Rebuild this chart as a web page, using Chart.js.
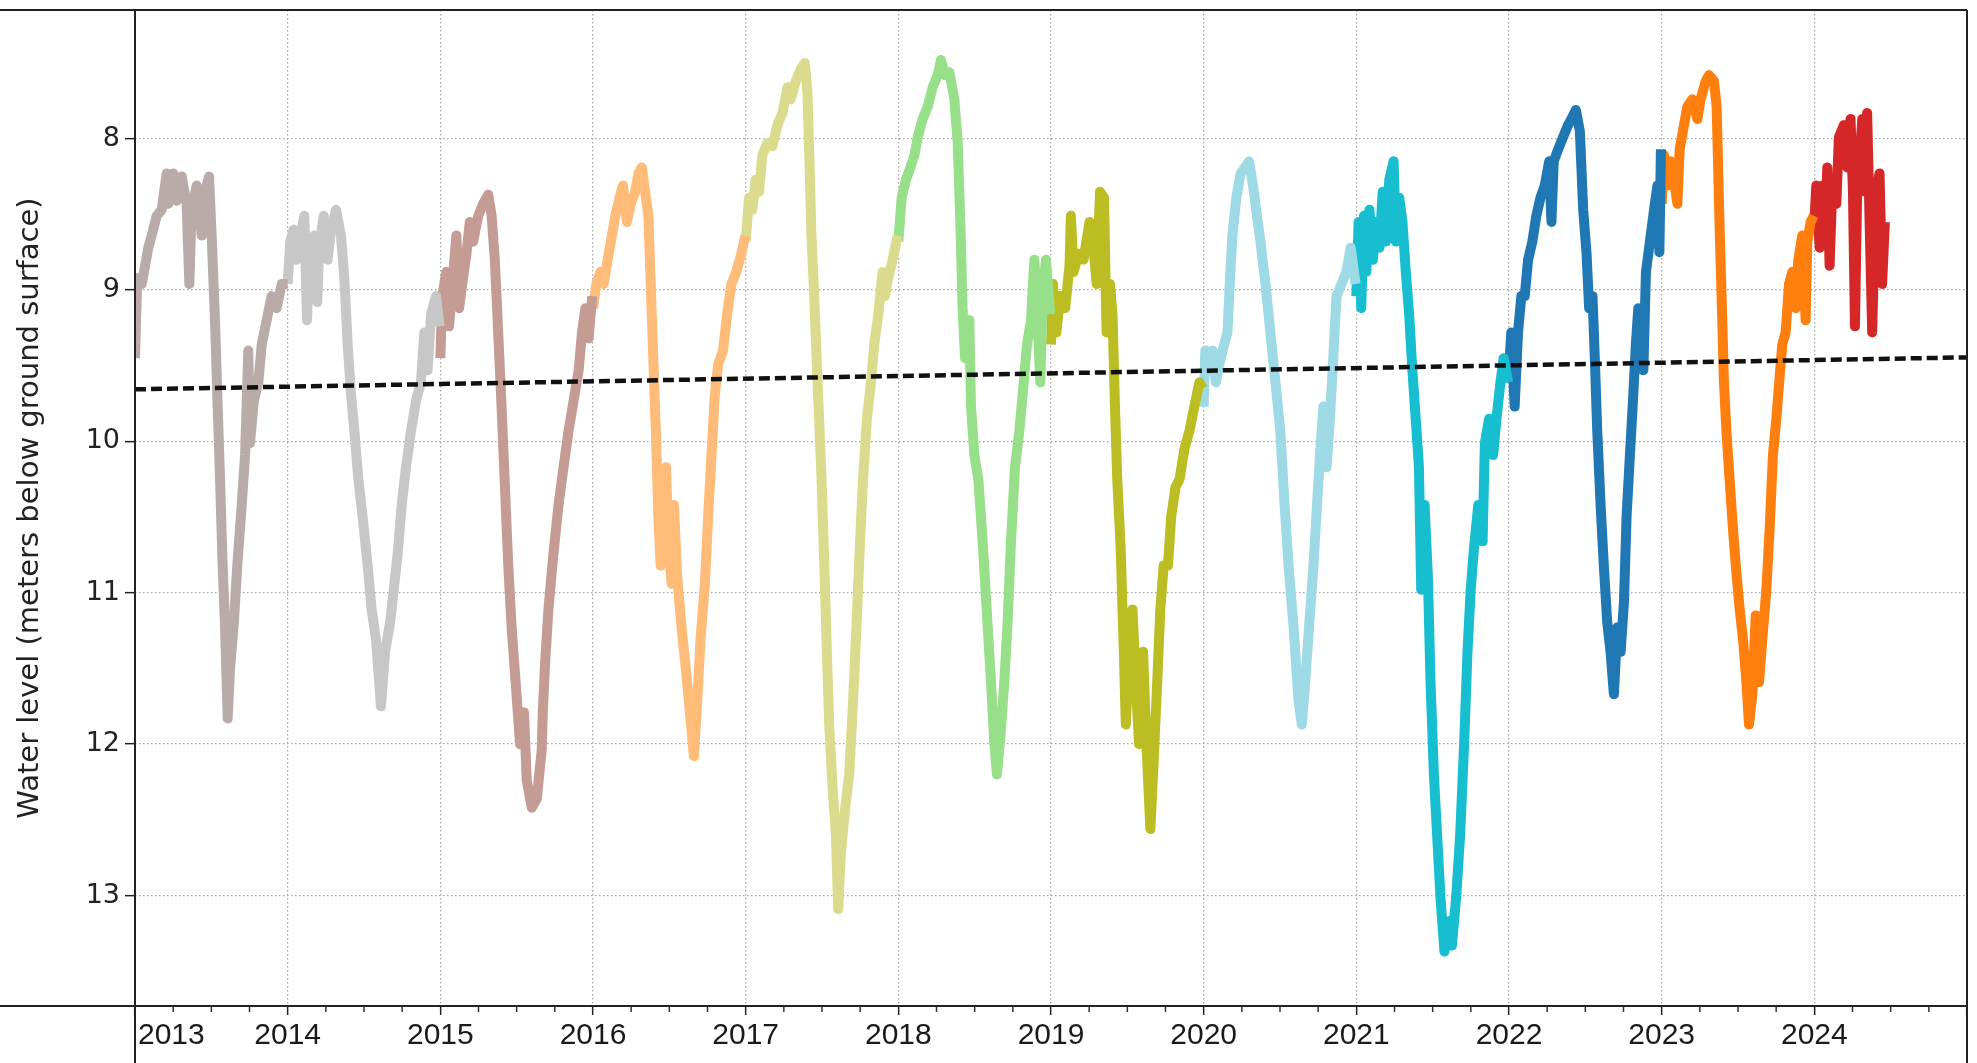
<!DOCTYPE html>
<html>
<head>
<meta charset="utf-8">
<script src="https://cdn.jsdelivr.net/npm/chart.js@4.4.1/dist/chart.umd.min.js"></script>
<style>
  html, body { margin: 0; padding: 0; background: #fff; }
  #wrap { width: 1977px; height: 1063px; }
</style>
</head>
<body>
<div id="wrap"><canvas id="levelChart" width="1977" height="1063"></canvas></div>
<script>
// Water level per calendar year: [fraction of the year, metres below ground surface]
const level2013 = [[0.00, 9.45], [0.015, 8.92], [0.044, 8.96], [0.066, 8.84], [0.087, 8.72], [0.109, 8.64], [0.142, 8.51], [0.175, 8.47], [0.207, 8.23], [0.218, 8.43], [0.251, 8.23], [0.273, 8.41], [0.306, 8.25], [0.338, 8.43], [0.356, 8.96], [0.371, 8.47], [0.404, 8.31], [0.426, 8.51], [0.437, 8.64], [0.459, 8.35], [0.485, 8.25], [0.502, 8.64], [0.524, 9.20], [0.539, 9.69], [0.557, 10.25], [0.574, 10.82], [0.590, 11.23], [0.607, 11.83], [0.622, 11.51], [0.648, 11.19], [0.670, 10.82], [0.699, 10.42], [0.721, 10.09], [0.742, 9.40], [0.753, 10.01], [0.779, 9.73], [0.808, 9.61], [0.830, 9.36], [0.862, 9.20], [0.895, 9.04], [0.928, 9.12], [0.961, 8.96], [1.0, 8.96]];
const level2014 = [[0.00, 8.96], [0.017, 8.68], [0.039, 8.60], [0.055, 8.80], [0.076, 8.68], [0.109, 8.51], [0.127, 9.20], [0.142, 8.68], [0.175, 8.64], [0.194, 9.08], [0.207, 8.72], [0.236, 8.51], [0.262, 8.80], [0.284, 8.60], [0.317, 8.47], [0.349, 8.64], [0.371, 8.92], [0.393, 9.36], [0.415, 9.69], [0.437, 9.93], [0.463, 10.25], [0.491, 10.50], [0.524, 10.82], [0.550, 11.11], [0.579, 11.31], [0.611, 11.75], [0.638, 11.39], [0.672, 11.19], [0.699, 10.94], [0.721, 10.74], [0.747, 10.42], [0.775, 10.17], [0.808, 9.93], [0.841, 9.73], [0.873, 9.61], [0.895, 9.28], [0.917, 9.53], [0.939, 9.16], [0.972, 9.04], [0.995, 9.24]];
const level2015 = [[0.00, 9.45], [0.013, 9.04], [0.039, 8.88], [0.057, 9.24], [0.079, 8.96], [0.105, 8.64], [0.123, 9.12], [0.149, 8.92], [0.171, 8.76], [0.193, 8.55], [0.215, 8.68], [0.248, 8.51], [0.281, 8.43], [0.314, 8.37], [0.336, 8.51], [0.357, 8.80], [0.379, 9.28], [0.401, 9.77], [0.423, 10.30], [0.445, 10.82], [0.467, 11.23], [0.496, 11.63], [0.522, 12.00], [0.548, 11.79], [0.566, 12.24], [0.599, 12.42], [0.632, 12.36], [0.664, 12.04], [0.671, 11.79], [0.686, 11.47], [0.708, 11.11], [0.741, 10.74], [0.774, 10.42], [0.807, 10.17], [0.840, 9.93], [0.873, 9.73], [0.906, 9.53], [0.928, 9.28], [0.950, 9.12], [0.971, 9.32], [0.995, 9.04]];
const level2016 = [[0.00, 9.12], [0.022, 8.96], [0.048, 8.88], [0.070, 8.96], [0.096, 8.80], [0.124, 8.64], [0.146, 8.51], [0.174, 8.39], [0.196, 8.31], [0.222, 8.55], [0.248, 8.43], [0.276, 8.35], [0.298, 8.23], [0.320, 8.19], [0.341, 8.35], [0.363, 8.51], [0.378, 8.96], [0.396, 9.49], [0.413, 9.97], [0.428, 10.50], [0.443, 10.82], [0.461, 10.58], [0.478, 10.17], [0.493, 10.66], [0.515, 10.94], [0.530, 10.42], [0.552, 10.90], [0.580, 11.23], [0.609, 11.51], [0.635, 11.79], [0.661, 12.08], [0.683, 11.71], [0.704, 11.31], [0.733, 10.94], [0.754, 10.50], [0.776, 10.09], [0.798, 9.69], [0.820, 9.49], [0.852, 9.40], [0.878, 9.16], [0.907, 8.96], [0.939, 8.88], [0.972, 8.76], [0.998, 8.64]];
const level2017 = [[0.00, 8.68], [0.022, 8.39], [0.044, 8.47], [0.066, 8.27], [0.088, 8.35], [0.109, 8.11], [0.142, 8.03], [0.175, 8.05], [0.208, 7.91], [0.241, 7.83], [0.274, 7.66], [0.295, 7.74], [0.328, 7.62], [0.361, 7.54], [0.387, 7.50], [0.405, 7.70], [0.420, 8.23], [0.431, 8.64], [0.449, 9.04], [0.466, 9.49], [0.481, 9.85], [0.497, 10.25], [0.514, 10.78], [0.532, 11.39], [0.547, 11.87], [0.569, 12.28], [0.591, 12.60], [0.606, 13.09], [0.624, 12.72], [0.650, 12.44], [0.678, 12.20], [0.700, 11.79], [0.722, 11.31], [0.744, 10.78], [0.766, 10.30], [0.794, 9.85], [0.821, 9.61], [0.842, 9.36], [0.869, 9.16], [0.897, 8.88], [0.912, 9.04], [0.934, 8.92], [0.963, 8.80], [0.995, 8.64]];
const level2018 = [[0.00, 8.68], [0.022, 8.39], [0.050, 8.27], [0.079, 8.19], [0.105, 8.11], [0.127, 7.99], [0.159, 7.87], [0.192, 7.79], [0.225, 7.66], [0.258, 7.58], [0.279, 7.48], [0.306, 7.58], [0.334, 7.56], [0.367, 7.74], [0.389, 8.03], [0.406, 8.55], [0.421, 9.12], [0.437, 9.45], [0.465, 9.20], [0.476, 9.77], [0.498, 10.09], [0.524, 10.25], [0.552, 10.66], [0.581, 11.15], [0.607, 11.59], [0.629, 12.00], [0.646, 12.20], [0.668, 11.96], [0.694, 11.59], [0.716, 11.19], [0.738, 10.66], [0.764, 10.17], [0.793, 9.93], [0.821, 9.61], [0.843, 9.36], [0.869, 9.20], [0.891, 8.80], [0.908, 9.12], [0.930, 9.61], [0.945, 9.04], [0.967, 8.80], [0.995, 9.16]];
const level2019 = [[0.00, 9.36], [0.013, 8.96], [0.035, 9.28], [0.061, 9.04], [0.093, 9.12], [0.121, 8.84], [0.130, 8.51], [0.148, 8.88], [0.180, 8.76], [0.213, 8.80], [0.252, 8.55], [0.278, 8.72], [0.299, 8.96], [0.321, 8.35], [0.347, 8.39], [0.364, 9.28], [0.386, 8.96], [0.403, 9.16], [0.419, 9.77], [0.434, 10.25], [0.456, 10.70], [0.477, 11.39], [0.490, 11.87], [0.512, 11.39], [0.534, 11.11], [0.555, 11.59], [0.577, 12.00], [0.603, 11.39], [0.625, 12.00], [0.651, 12.56], [0.672, 12.12], [0.694, 11.63], [0.716, 11.11], [0.738, 10.82], [0.766, 10.82], [0.787, 10.50], [0.816, 10.30], [0.842, 10.25], [0.874, 10.05], [0.907, 9.93], [0.939, 9.77], [0.972, 9.61], [0.995, 9.65]];
const level2020 = [[0.00, 9.77], [0.011, 9.40], [0.032, 9.53], [0.058, 9.40], [0.080, 9.61], [0.102, 9.49], [0.134, 9.36], [0.156, 9.28], [0.171, 8.96], [0.188, 8.64], [0.214, 8.39], [0.242, 8.23], [0.271, 8.19], [0.297, 8.15], [0.323, 8.31], [0.344, 8.47], [0.372, 8.68], [0.405, 8.96], [0.437, 9.28], [0.470, 9.61], [0.502, 9.93], [0.530, 10.42], [0.556, 10.82], [0.589, 11.23], [0.621, 11.71], [0.643, 11.87], [0.665, 11.59], [0.690, 11.23], [0.719, 10.82], [0.740, 10.46], [0.762, 10.09], [0.784, 9.77], [0.805, 10.17], [0.827, 9.85], [0.849, 9.45], [0.870, 9.04], [0.903, 8.96], [0.935, 8.88], [0.963, 8.72], [0.995, 8.96]];
const level2021 = [[0.00, 9.04], [0.015, 8.55], [0.032, 9.12], [0.050, 8.51], [0.065, 8.88], [0.086, 8.47], [0.108, 8.80], [0.130, 8.55], [0.151, 8.72], [0.173, 8.35], [0.194, 8.68], [0.216, 8.27], [0.244, 8.15], [0.259, 8.68], [0.281, 8.39], [0.302, 8.55], [0.324, 8.88], [0.346, 9.16], [0.367, 9.53], [0.389, 9.85], [0.410, 10.17], [0.425, 10.98], [0.447, 10.42], [0.469, 10.90], [0.486, 11.59], [0.508, 12.20], [0.529, 12.60], [0.551, 13.01], [0.577, 13.37], [0.605, 13.17], [0.626, 13.33], [0.654, 13.01], [0.680, 12.60], [0.706, 12.00], [0.728, 11.39], [0.749, 10.98], [0.771, 10.70], [0.799, 10.42], [0.827, 10.66], [0.842, 10.01], [0.870, 9.85], [0.896, 10.09], [0.918, 9.85], [0.944, 9.61], [0.965, 9.45], [0.995, 9.61]];
const level2022 = [[0.00, 9.53], [0.015, 9.28], [0.037, 9.77], [0.059, 9.28], [0.081, 9.04], [0.103, 9.04], [0.125, 8.80], [0.153, 8.68], [0.179, 8.51], [0.206, 8.39], [0.234, 8.31], [0.263, 8.15], [0.278, 8.55], [0.293, 8.15], [0.322, 8.07], [0.354, 7.99], [0.387, 7.91], [0.409, 7.87], [0.438, 7.81], [0.464, 7.95], [0.486, 8.47], [0.508, 8.76], [0.525, 9.12], [0.547, 9.04], [0.562, 9.45], [0.578, 9.93], [0.600, 10.42], [0.621, 10.82], [0.643, 11.19], [0.665, 11.39], [0.687, 11.67], [0.709, 11.23], [0.731, 11.39], [0.753, 11.06], [0.770, 10.50], [0.792, 10.09], [0.810, 9.77], [0.831, 9.36], [0.847, 9.12], [0.869, 9.16], [0.880, 9.53], [0.897, 8.88], [0.923, 8.68], [0.950, 8.47], [0.972, 8.31], [0.985, 8.75], [0.995, 8.07]];
const level2023 = [[0.00, 8.43], [0.015, 8.11], [0.037, 8.31], [0.059, 8.15], [0.081, 8.27], [0.103, 8.43], [0.118, 8.07], [0.146, 7.91], [0.168, 7.79], [0.201, 7.74], [0.234, 7.87], [0.255, 7.74], [0.288, 7.62], [0.310, 7.58], [0.343, 7.62], [0.360, 7.79], [0.371, 8.23], [0.382, 8.68], [0.397, 9.20], [0.408, 9.61], [0.424, 9.93], [0.445, 10.25], [0.467, 10.58], [0.489, 10.86], [0.511, 11.11], [0.533, 11.31], [0.555, 11.59], [0.572, 11.87], [0.594, 11.67], [0.616, 11.15], [0.638, 11.59], [0.659, 11.31], [0.686, 10.98], [0.707, 10.58], [0.729, 10.09], [0.751, 9.85], [0.773, 9.57], [0.790, 9.36], [0.812, 9.28], [0.834, 8.96], [0.856, 8.88], [0.878, 9.12], [0.895, 8.80], [0.921, 8.64], [0.943, 9.20], [0.954, 8.68], [0.976, 8.55], [0.996, 8.51]];
const level2024 = [[0.00, 8.55], [0.013, 8.31], [0.035, 8.72], [0.052, 8.31], [0.074, 8.51], [0.085, 8.19], [0.100, 8.84], [0.118, 8.31], [0.144, 8.43], [0.161, 7.99], [0.194, 7.91], [0.216, 8.19], [0.237, 7.87], [0.253, 8.35], [0.266, 9.24], [0.281, 8.31], [0.296, 8.15], [0.314, 7.87], [0.331, 8.35], [0.346, 7.83], [0.362, 8.55], [0.379, 9.28], [0.394, 8.64], [0.412, 8.31], [0.427, 8.23], [0.444, 8.96], [0.462, 8.55]];

const years = [2013, 2014, 2015, 2016, 2017, 2018, 2019, 2020, 2021, 2022, 2023, 2024];
const yearLevels = [level2013, level2014, level2015, level2016, level2017, level2018, level2019, level2020, level2021, level2022, level2023, level2024];
const yearColors = ['#b9aba8', '#c7c7c7', '#c49c94', '#ffbb78', '#dbdb8d', '#98df8a', '#bcbd22', '#9edae5', '#17becf', '#1f77b4', '#ff7f0e', '#d62728'];

// linear trend over the whole record: [decimal year, metres below ground surface]
const trendLine = [[2013, 9.656], [2025, 9.445]];

const xTicks = [2013, 2014, 2015, 2016, 2017, 2018, 2019, 2020, 2021, 2022, 2023, 2024, 2025];
const xTickLabels = ['2013', '2014', '2015', '2016', '2017', '2018', '2019', '2020', '2021', '2022', '2023', '2024', ''];
const yTicks = [8, 9, 10, 11, 12, 13];

const datasets = [{
    label: 'Trend',
    data: trendLine.map(p => ({ x: p[0], y: p[1] })),
    borderColor: '#111',
    borderWidth: 4.5,
    borderDash: [11, 5],
    pointRadius: 0,
    clip: 0
}];

yearLevels.forEach((series, i) => {
    datasets.push({
        label: String(years[i]),
        data: series.map(p => ({ x: years[i] + p[0], y: p[1] })),
        borderColor: yearColors[i],
        borderWidth: 10,
        borderJoinStyle: 'round',
        pointRadius: 0,
        tension: 0,
        clip: 0
    });
});

// outer frame, quarterly minor ticks and the year labels under the axis
const frameAndTicks = {
    id: 'frameAndTicks',
    afterDraw(chart) {
        const { ctx, chartArea: area, scales: { x } } = chart;
        ctx.save();
        ctx.strokeStyle = '#333';
        ctx.lineWidth = 1.5;
        for (let yr = xTicks[0]; yr < xTicks[xTicks.length - 1]; yr++) {
            [0.25, 0.5, 0.75].forEach(q => {
                const px = x.getPixelForValue(yr + q);
                ctx.beginPath();
                ctx.moveTo(px, area.bottom);
                ctx.lineTo(px, area.bottom + 6);
                ctx.stroke();
            });
        }

        ctx.strokeStyle = '#222';
        ctx.lineWidth = 2;
        ctx.beginPath();
        ctx.moveTo(0, area.top); ctx.lineTo(area.right, area.top);
        ctx.moveTo(0, area.bottom); ctx.lineTo(area.right, area.bottom);
        ctx.moveTo(area.left, area.top); ctx.lineTo(area.left, chart.height);
        ctx.moveTo(area.right, area.top); ctx.lineTo(area.right, chart.height);
        ctx.stroke();

        ctx.font = '30px "Liberation Sans", Arial, sans-serif';
        ctx.fillStyle = '#1a1a1a';
        ctx.textBaseline = 'top';
        xTicks.forEach((v, i) => {
            const label = xTickLabels[i];
            if (!label) return;
            const px = x.getPixelForValue(v);
            if (i === 0) {
                ctx.textAlign = 'left';
                ctx.fillText(label, px + 3, area.bottom + 15);
            } else {
                ctx.textAlign = 'center';
                ctx.fillText(label, px, area.bottom + 15);
            }
        });
        ctx.restore();
    }
};

const ctx = document.getElementById('levelChart').getContext('2d');
new Chart(ctx, {
    type: 'line',
    data: { datasets: datasets },
    options: {
        responsive: false,
        animation: false,
        layout: { padding: { top: 10, right: 10, left: 0, bottom: 0 } },
        plugins: {
            legend: { display: false },
            tooltip: { enabled: false }
        },
        scales: {
            x: {
                type: 'linear',
                min: 2013,
                max: 2025,
                afterBuildTicks: s => { s.ticks = xTicks.map(v => ({ value: v })); },
                afterFit: s => { s.height = 57; s.paddingLeft = 0; s.paddingRight = 0; },
                ticks: { display: false },
                grid: { color: '#a8a8a8', lineWidth: 1.3, tickColor: '#222', tickLength: 9, tickWidth: 1.5, tickBorderDash: [] },
                border: { display: false, dash: [1.5, 2.5] }
            },
            y: {
                type: 'linear',
                reverse: true,
                min: 7.15,
                max: 13.73,
                afterBuildTicks: s => { s.ticks = yTicks.map(v => ({ value: v })); },
                afterFit: s => { s.width = 135; s.paddingTop = 0; s.paddingBottom = 0; },
                ticks: { font: { family: 'DejaVu Sans', size: 27 }, color: '#222', padding: 5 },
                grid: { color: '#a8a8a8', lineWidth: 1.3, tickColor: '#222', tickLength: 10, tickWidth: 1.5, tickBorderDash: [] },
                border: { display: false, dash: [1.5, 2.5] },
                title: {
                    display: true,
                    text: 'Water level (meters below ground surface)',
                    font: { family: 'DejaVu Sans', size: 29 },
                    color: '#222',
                    padding: { top: 13, bottom: 0 }
                }
            }
        }
    },
    plugins: [frameAndTicks]
});
</script>
</body>
</html>
